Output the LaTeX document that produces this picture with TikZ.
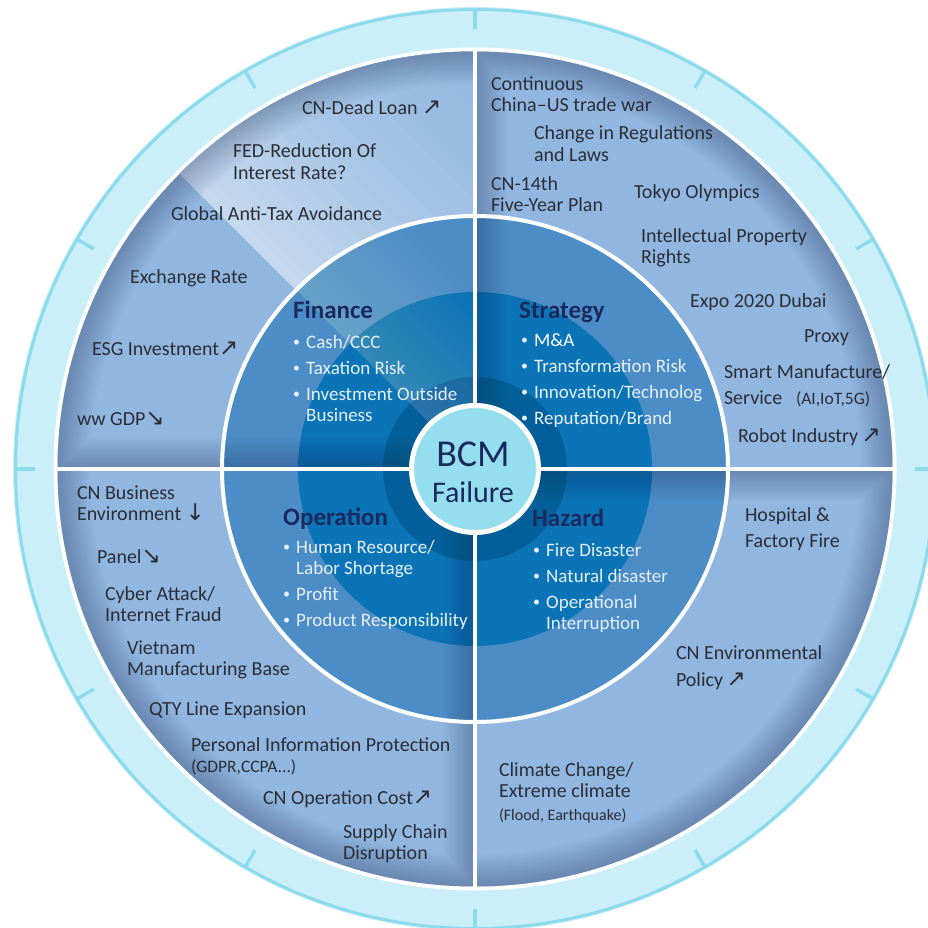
\documentclass[tikz,border=0pt]{standalone}
\usepackage{fontspec}
\setmainfont{Carlito}
\newfontfamily\symf{DejaVu Sans}
\usetikzlibrary{calc}
\definecolor{bandc}{HTML}{CBEFF8}
\definecolor{bandline}{HTML}{8CDBED}
\definecolor{outerblue}{HTML}{91B6E0}
\definecolor{glareA}{HTML}{C6D9EE}
\definecolor{catblue}{HTML}{4C8DC7}
\definecolor{innerblue}{HTML}{0A74B6}
\definecolor{darkblue}{HTML}{035F99}
\definecolor{centerc}{HTML}{95DEEF}
\definecolor{navy}{HTML}{1B2A5E}
\definecolor{labelc}{HTML}{2B2E36}
\definecolor{itemc}{HTML}{E6F0F8}
\definecolor{shadowc}{HTML}{1A2E55}
\newcommand\mlines[1]{\vtop{\halign{##\hfil\cr#1\crcr}}}
\newcommand\vgap[1]{\noalign{\vskip#1pt}}
\newcommand\blist[1]{\vtop{\halign{##&##\hfil\cr#1\crcr}}}
\newcommand\bul{\hbox to 13pt{\raisebox{1.3pt}{\fontsize{14}{14}\selectfont•}\hfil}}
\newcommand\arw[1]{{\symf\fontsize{23}{21}\selectfont#1}}
\newcommand\smallp[1]{{\fontsize{17.5}{21}\selectfont#1}}
\newcommand\qshadow[3]{%
  \begin{scope}
    \clip (C) -- ($(C)+(#1:417.5)$) arc[start angle=#1, end angle=#2, radius=417.5] -- cycle;
    \foreach \k in {1,...,16}{
      \pgfmathsetmacro\w{4*\k}
      \draw[shadowc, line width=\w pt, draw opacity=0.018] #3;
    }
  \end{scope}}
\begin{document}
\begin{tikzpicture}[x=1pt,y=-1pt,
  lbl/.style={anchor=base west, inner sep=0pt, outer sep=0pt, text=labelc, font=\fontsize{20}{21}\selectfont},
  ttl/.style={anchor=base west, inner sep=0pt, text=navy, font=\bfseries\fontsize{25}{28}\selectfont},
  itm/.style={anchor=base west, inner sep=0pt, text=itemc, font=\fontsize{19}{21}\selectfont},
  ctr/.style={anchor=base, inner sep=0pt, text=navy}]
\useasboundingbox (0,0) rectangle (928,928);
\clip (0,0) rectangle (928,928);
\fill[white] (0,0) rectangle (928,928);
\coordinate (C) at (475,469);
% outer band
\fill[bandc] (C) circle[radius=462];
\draw[bandline, line width=3pt] (C) circle[radius=459.5];
\foreach \a in {0,30,...,330}
  \draw[bandline, line width=3.5pt] ($(C)+(\a:459)$) -- ($(C)+(\a:440)$);
\fill[white] (C) circle[radius=421.5];
\fill[outerblue] (C) circle[radius=417.5];
% outer glare
\begin{scope}
  \clip (C) circle[radius=417.5];
  \clip (C) -- ($(C)+(-90:600)$) -- ($(C)+(-135:600)$) -- cycle;
  \foreach \i in {30,29,...,1}{
    \pgfmathsetmacro\dd{\i*10}
    \pgfmathtruncatemacro\pp{100*(1-(\i-0.5)/30)^1.3}
    \fill[glareA!\pp!outerblue] ($(C)+(-135:700)$) -- ($(C)+(-135:700)+(-45:\dd)$) -- ($(C)+(-135:-100)+(-45:\dd)$) -- ($(C)+(-135:-100)$) -- cycle;
  }
\end{scope}
% rings
\fill[catblue] (C) circle[radius=253];
\fill[innerblue] (C) circle[radius=177];
\fill[darkblue] (C) circle[radius=92];
% inner glare
\begin{scope}
  \clip (C) circle[radius=253];
  \clip (C) -- ($(C)+(-90:600)$) -- ($(C)+(-135:600)$) -- cycle;
  \foreach \i in {1,...,20}{
    \pgfmathsetmacro\dd{\i*6}
    \fill[white, fill opacity=0.011] ($(C)+(-135:700)$) -- ($(C)+(-135:700)+(-45:\dd)$) -- ($(C)+(-135:-100)+(-45:\dd)$) -- ($(C)+(-135:-100)$) -- cycle;
  }
\end{scope}
% shadows
\qshadow{-90}{-180}{(C) -- ($(C)+(-180:417.5)$) arc[start angle=-180, end angle=-90, radius=417.5]}
\qshadow{0}{-90}{(C) -- ($(C)+(-90:417.5)$) arc[start angle=-90, end angle=0, radius=417.5]}
\qshadow{0}{90}{(C) -- ($(C)+(0:417.5)$) arc[start angle=0, end angle=90, radius=417.5]}
\qshadow{90}{180}{(C) -- ($(C)+(90:417.5)$) arc[start angle=90, end angle=180, radius=417.5]}
% white lines
\draw[white, line width=4pt] (C) circle[radius=253];
\draw[white, line width=4pt] ($(C)+(-418,0)$) -- ($(C)+(418,0)$);
\draw[white, line width=4pt] ($(C)+(0,-418)$) -- ($(C)+(0,418)$);
% centre
\draw[white, line width=5pt, fill=centerc] (C) circle[radius=63.5];
\node[ctr, font=\fontsize{38}{40}\selectfont] (bcm) at (473,466) {BCM};
\node[ctr, font=\fontsize{30}{32}\selectfont] (fail) at (473,502) {Failure};
% top-left labels
\node[lbl] (deadloan) at (302,115) {CN-Dead Loan \arw{↗}};
\node[lbl] (fed) at (233,158) {\mlines{FED-Reduction Of\cr Interest Rate?}};
\node[lbl] (antitax) at (171,220) {Global Anti-Tax Avoidance};
\node[lbl] (exch) at (130,283) {Exchange Rate};
\node[lbl] (esg) at (92,355) {ESG Investment\arw{↗}};
\node[lbl] (gdp) at (77,425) {ww GDP\arw{↘}};
% top-right labels
\node[lbl] (trade) at (491,91) {\mlines{Continuous\cr China–US trade war}};
\node[lbl] (regs) at (534,140) {\mlines{Change in Regulations\cr and Laws}};
\node[lbl] (plan) at (491,190) {\mlines{CN-14th\cr Five-Year Plan}};
\node[lbl] (tokyo) at (634,198) {Tokyo Olympics};
\node[lbl] (ipr) at (641,242) {\mlines{Intellectual Property\cr Rights}};
\node[lbl] (expo) at (690,307) {Expo 2020 Dubai};
\node[lbl] (proxy) at (804,342) {Proxy};
\node[lbl] (smart) at (724,378) {\mlines{Smart Manufacture/\cr\vgap{5}\hbox to 72pt{Service\hfil}\smallp{(AI,IoT,5G)}}};
\node[lbl] (robot) at (738,442) {Robot Industry\,\arw{↗}};
% bottom-left labels
\node[lbl] (cnbiz) at (77,499) {\mlines{CN Business\cr Environment \arw{↓}}};
\node[lbl] (panel) at (97,563) {Panel\arw{↘}};
\node[lbl] (cyber) at (105,600) {\mlines{Cyber Attack/\cr Internet Fraud}};
\node[lbl] (vietnam) at (127,654) {\mlines{Vietnam\cr Manufacturing Base}};
\node[lbl] (qty) at (149,715) {QTY Line Expansion};
\node[lbl] (pip) at (191,751) {\mlines{Personal Information Protection\cr \smallp{(GDPR,CCPA...)}}};
\node[lbl] (opcost) at (263,804) {CN Operation Cost\arw{↗}};
\node[lbl] (supply) at (343,838) {\mlines{Supply Chain\cr Disruption}};
% bottom-right labels
\node[lbl] (fire) at (745,521) {\mlines{Hospital \&\cr\vgap{5}Factory Fire}};
\node[lbl] (envpol) at (676,659) {\mlines{CN Environmental\cr\vgap{6}Policy\,\arw{↗}}};
\node[lbl] (climate) at (499,776) {\mlines{Climate Change/\cr Extreme climate\cr\vgap{2}{\fontsize{16}{21}\selectfont (Flood, Earthquake)}}};
% category blocks
\node[ttl] (fin) at (293,318) {Finance};
\node[itm] (finitems) at (293,348) {\blist{\bul&Cash/CCC\cr\vgap{5}\bul&Taxation Risk\cr\vgap{5}\bul&Investment Outside\cr&Business}};
\node[ttl] (str) at (519,318) {Strategy};
\node[itm] (stritems) at (521,346) {\blist{\bul&\textcolor{white}{M\&A}\cr\vgap{5}\bul&Transformation Risk\cr\vgap{5}\bul&Innovation/Technolog\cr\vgap{5}\bul&Reputation/Brand}};
\node[ttl] (ope) at (283,525) {Operation};
\node[itm] (opeitems) at (283,553) {\blist{\bul&Human Resource/\cr&Labor Shortage\cr\vgap{5}\bul&Profit\cr\vgap{5}\bul&Product Responsibility}};
\node[ttl] (haz) at (532,526) {Hazard};
\node[itm] (hazitems) at (533,556) {\blist{\bul&Fire Disaster\cr\vgap{5}\bul&Natural disaster\cr\vgap{5}\bul&Operational\cr&Interruption}};
\end{tikzpicture}
\end{document}
